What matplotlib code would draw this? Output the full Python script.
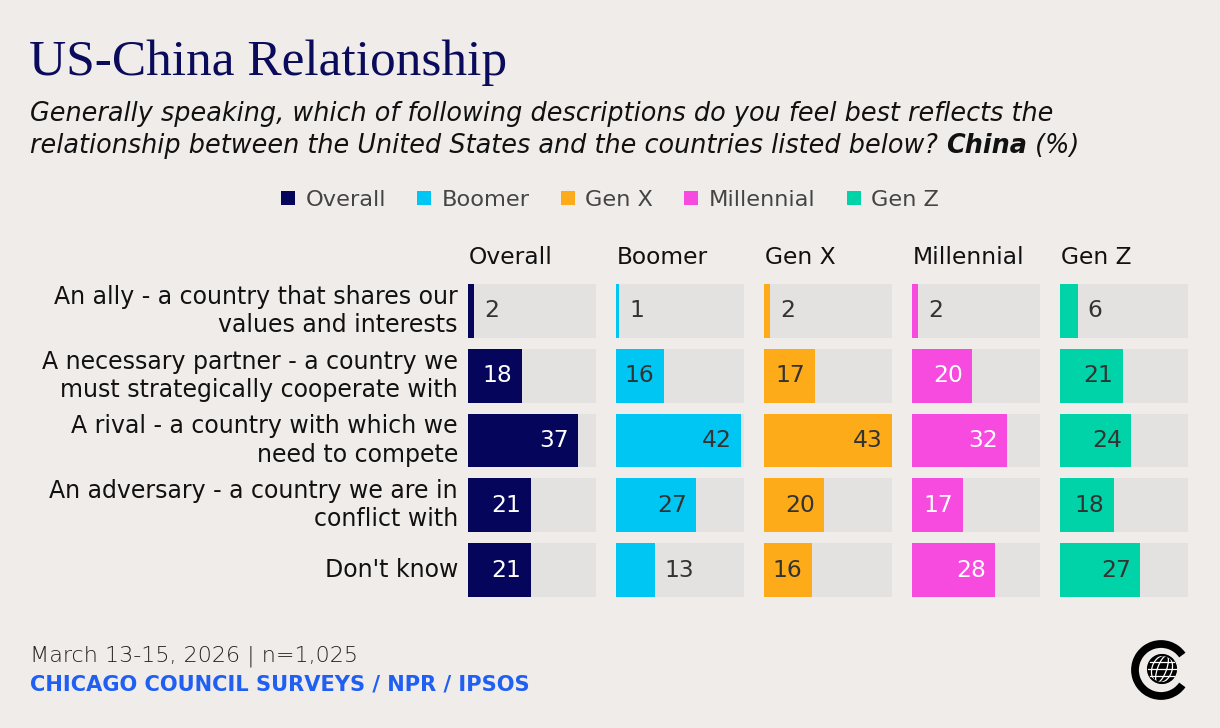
import numpy as np
import matplotlib.pyplot as plt
from matplotlib.patches import Patch, Arc, Circle, Ellipse

# data (% answering, China)
categories = [
    "An ally - a country that shares our\nvalues and interests",
    "A necessary partner - a country we\nmust strategically cooperate with",
    "A rival - a country with which we\nneed to compete",
    "An adversary - a country we are in\nconflict with",
    "Don't know",
]
groups = ["Overall", "Boomer", "Gen X", "Millennial", "Gen Z"]
overall = [2, 18, 37, 21, 21]
boomer = [1, 16, 42, 27, 13]
gen_x = [2, 17, 43, 20, 16]
millennial = [2, 20, 32, 17, 28]
gen_z = [6, 21, 24, 18, 27]
series = [overall, boomer, gen_x, millennial, gen_z]

colors = ["#05055b", "#00c6f3", "#fdab19", "#f74ade", "#00d3a7"]
text_colors = ["white", "#333333", "#333333", "white", "#333333"]
bg_color = "#f0ecea"
track_color = "#e4e2e0"
font = "DejaVu Sans"

W, H = 1220, 728
fig = plt.figure(figsize=(W / 100, H / 100), dpi=100)
fig.patch.set_facecolor(bg_color)

# full-figure axes in pixel units, used only for placing text
bg = fig.add_axes([0, 0, 1, 1])
bg.set_xlim(0, W)
bg.set_ylim(H, 0)
bg.axis("off")

bg.text(29, 75, "US-China Relationship", fontfamily="Liberation Serif",
        fontsize=37, color="#0b0b5c", va="baseline")

sub_kw = dict(fontfamily=font, fontsize=18.4, style="italic", color="#111111")
bg.text(30, 121, "Generally speaking, which of following descriptions do you feel best reflects the",
        va="baseline", **sub_kw)
t1 = bg.text(30, 153, "relationship between the United States and the countries listed below? ",
             va="baseline", **sub_kw)
t2 = bg.annotate("China", xy=(1, 0), xycoords=t1, va="bottom", fontweight="bold", **sub_kw)
bg.annotate(" (%)", xy=(1, 0), xycoords=t2, va="bottom", **sub_kw)

# legend
handles = [Patch(facecolor=c, edgecolor="none") for c in colors]
fig.legend(handles, groups, loc="center", bbox_to_anchor=(0.5, 1 - 200 / H), ncol=5,
           frameon=False, handlelength=0.62, handleheight=0.62, handletextpad=0.45,
           columnspacing=1.4, prop={"family": font, "size": 16.2}, labelcolor="#444444")

# one small panel per generation
lefts = [468, 616, 764, 912, 1060]
top, bottom, width = 284, 597, 128
xmax = 43
y = np.arange(len(categories))
axes = []
for i, (vals, left) in enumerate(zip(series, lefts)):
    ax = fig.add_axes([left / W, 1 - bottom / H, width / W, (bottom - top) / H])
    ax.barh(y, [xmax] * len(y), height=0.83, color=track_color)
    ax.barh(y, vals, height=0.83, color=colors[i])
    ax.set_xlim(0, xmax)
    ax.set_ylim(len(y) - 0.585, -0.415)
    ax.axis("off")
    for j, v in enumerate(vals):
        if v >= 15:
            ax.annotate(str(v), xy=(v, j), xytext=(-9, 0), textcoords="offset pixels",
                        ha="right", va="center", fontfamily=font, fontsize=16.8,
                        color=text_colors[i])
        else:
            ax.annotate(str(v), xy=(v, j), xytext=(10, 0), textcoords="offset pixels",
                        ha="left", va="center", fontfamily=font, fontsize=16.8,
                        color="#333333")
    ax.annotate(groups[i], xy=(0, 1), xycoords="axes fraction", xytext=(1, 26),
                textcoords="offset pixels", ha="left", va="center",
                fontfamily=font, fontsize=16.8, color="#111111")
    axes.append(ax)

for j, cat in enumerate(categories):
    axes[0].annotate(cat, xy=(0, j), xytext=(-10, 0), textcoords="offset pixels",
                     ha="right", va="center", multialignment="right", linespacing=1.22,
                     fontfamily=font, fontsize=17, color="#111111")

# footer
bg.text(30, 656, "March 13-15, 2026 | n=1,025", fontfamily=font, fontsize=16,
        fontweight="light", color="#222222", va="center")
bg.text(30, 685, "CHICAGO COUNCIL SURVEYS / NPR / IPSOS", fontfamily=font, fontsize=15.1,
        fontweight="bold", color="#1f5ff2", va="center")

# logo
lg = fig.add_axes([(1161 - 32) / W, 1 - (670 + 32) / H, 64 / W, 64 / H])
lg.set_xlim(-32, 32)
lg.set_ylim(-32, 32)
lg.set_aspect("equal")
lg.axis("off")
lg.add_patch(Arc((0, 0), 52, 52, theta1=35, theta2=325, lw=5.6, color="black"))
lg.add_patch(Circle((1, 1), 14, color="black"))
for w in [9, 20]:
    lg.add_patch(Ellipse((1, 1), w, 28, angle=-20, fill=False, ec="white", lw=0.9))
for yy in [-6, 1, 8]:
    half = np.sqrt(max(14 ** 2 - (yy - 1) ** 2, 0))
    lg.plot([1 - half, 1 + half], [yy, yy], color="white", lw=0.9)
lg.add_patch(Circle((1, 1), 14, fill=False, ec="black", lw=1.5))

fig.savefig("out.png", dpi=100, facecolor=fig.get_facecolor())
